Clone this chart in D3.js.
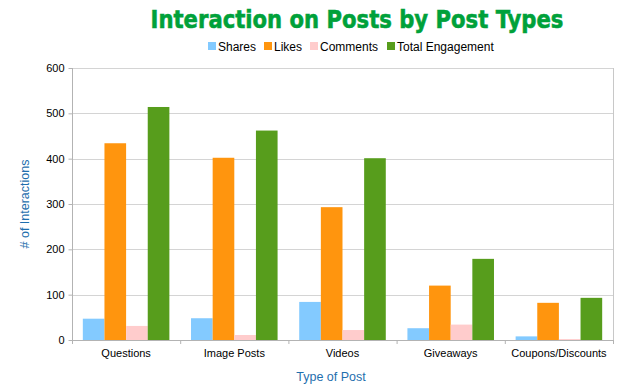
<!DOCTYPE html>
<html>
<head>
<meta charset="utf-8">
<script src="https://cdn.jsdelivr.net/npm/d3@7"></script>
<style>
  body { margin: 0; background: #fff; }
  svg { display: block; font-family: "Liberation Sans", Arial, sans-serif; }
</style>
</head>
<body>
<div id="chart-area"></div>
<script>
// Data
var categories = ["Questions", "Image Posts", "Videos", "Giveaways", "Coupons/Discounts"];
var seriesNames = ["Shares", "Likes", "Comments", "Total Engagement"];
var shares = [47, 48, 84, 26, 8];
var likes = [434, 402, 293, 120, 82];
var comments = [31, 11, 22, 34, 2];
var totalEngagement = [514, 462, 401, 179, 93];
var yTicks = [0, 100, 200, 300, 400, 500, 600];

var seriesValues = [shares, likes, comments, totalEngagement];
var colors = ["#83caff", "#ff950e", "#ffcccc", "#579d1c"];

var data = categories.map((c, i) => {
	return { category: c, values: seriesValues.map((s) => s[i]) };
});

var width = 624, height = 387;
var margin = { top: 68, right: 11, bottom: 47, left: 72 };
var innerW = width - margin.left - margin.right,
	innerH = height - margin.top - margin.bottom;

var svg = d3.select("#chart-area")
	.append("svg")
		.attr("width", width)
		.attr("height", height);

var g = svg.append("g")
	.attr("transform", `translate(${margin.left},${margin.top})`);

// Scales: one band per category, bars fill the middle 80% of it
var x0 = d3.scaleBand()
	.domain(categories)
	.range([0, innerW])
	.paddingInner(0)
	.paddingOuter(0);

var x1 = d3.scaleBand()
	.domain(seriesNames)
	.range([0, x0.bandwidth()])
	.paddingInner(0)
	.paddingOuter(0.5);

var y = d3.scaleLinear()
	.domain([0, 600])
	.range([innerH, 0]);

// Gridlines
g.append("g")
	.selectAll("line")
	.data(yTicks.slice(1))
	.enter()
	.append("line")
		.attr("x1", 0)
		.attr("x2", innerW)
		.attr("y1", (d) => Math.round(y(d)) + 0.5)
		.attr("y2", (d) => Math.round(y(d)) + 0.5)
		.attr("stroke", "#d4d4d4");

// right frame line
g.append("line")
	.attr("x1", innerW + 0.5).attr("x2", innerW + 0.5)
	.attr("y1", 0).attr("y2", innerH)
	.attr("stroke", "#c8c8c8");

// Bars
var groups = g.selectAll("g.cat")
	.data(data)
	.enter()
	.append("g")
		.attr("class", "cat")
		.attr("transform", (d) => `translate(${x0(d.category)},0)`);

groups.selectAll("rect")
	.data((d) => d.values.map((v, i) => ({ name: seriesNames[i], value: v, i: i })))
	.enter()
	.append("rect")
		.attr("x", (d) => x1(d.name))
		.attr("y", (d) => y(d.value))
		.attr("width", x1.bandwidth())
		.attr("height", (d) => innerH - y(d.value))
		.attr("fill", (d) => colors[d.i]);

// Axes
var xAxisCall = d3.axisBottom(x0).tickSize(0).tickPadding(9);
var yAxisCall = d3.axisLeft(y).tickValues(yTicks).tickSize(4).tickPadding(4);

var xAxis = g.append("g")
	.attr("class", "bottom axis")
	.attr("transform", `translate(0,${innerH})`)
	.call(xAxisCall);
xAxis.select(".domain").attr("stroke", "#b3b3b3").attr("d", `M0.5,0.5H${innerW + 0.5}`);
xAxis.selectAll("text").attr("font-size", 11).attr("fill", "#000")
	.attr("font-family", "Liberation Sans, Arial, sans-serif");

// category separators
xAxis.selectAll("line.sep")
	.data(categories.concat(["end"]))
	.enter()
	.append("line")
		.attr("class", "sep")
		.attr("x1", (d, i) => i * x0.bandwidth() + 0.5)
		.attr("x2", (d, i) => i * x0.bandwidth() + 0.5)
		.attr("y1", 0)
		.attr("y2", 4)
		.attr("stroke", "#b3b3b3");

var yAxis = g.append("g")
	.attr("class", "left axis")
	.attr("transform", "translate(0.5,0)")
	.call(yAxisCall);
yAxis.select(".domain").attr("stroke", "#b3b3b3").attr("d", `M0,0V${innerH}`);
yAxis.selectAll(".tick line").attr("stroke", "#b3b3b3");
yAxis.selectAll("text").attr("font-size", 11).attr("fill", "#000")
	.attr("font-family", "Liberation Sans, Arial, sans-serif");

// Axis titles
svg.append("text")
	.attr("x", 331)
	.attr("y", 381)
	.attr("font-size", 12.5)
	.attr("fill", "#1f6fae")
	.attr("text-anchor", "middle")
	.text("Type of Post");

svg.append("text")
	.attr("transform", "translate(29,204) rotate(-90)")
	.attr("font-size", 12.5)
	.attr("fill", "#1f6fae")
	.attr("text-anchor", "middle")
	.text("# of Interactions");

// Title - squeezed horizontally to the reference width
var title = svg.append("text")
	.attr("x", 0)
	.attr("y", 0)
	.attr("font-size", 25)
	.attr("font-weight", "bold")
	.attr("font-family", "DejaVu Sans, sans-serif")
	.attr("fill", "#00a13a")
	.attr("stroke", "#00a13a")
	.attr("stroke-width", 0.6)
	.attr("text-anchor", "middle")
	.text("Interaction on Posts by Post Types");
var tw = title.node().getComputedTextLength();
title.attr("transform", `translate(357,28) scale(${413 / tw},1)`);

// Legend
var legendX = [208, 264, 310, 387];
var legend = svg.append("g").attr("class", "legend");
var items = legend.selectAll("g")
	.data(seriesNames)
	.enter()
	.append("g")
		.attr("transform", (d, i) => `translate(${legendX[i]},42)`);
items.append("rect")
	.attr("width", 8)
	.attr("height", 8)
	.attr("fill", (d, i) => colors[i]);
items.append("text")
	.attr("x", 10)
	.attr("y", 8.5)
	.attr("font-size", 12)
	.attr("fill", "#000")
	.text((d) => d);
</script>
</body>
</html>
